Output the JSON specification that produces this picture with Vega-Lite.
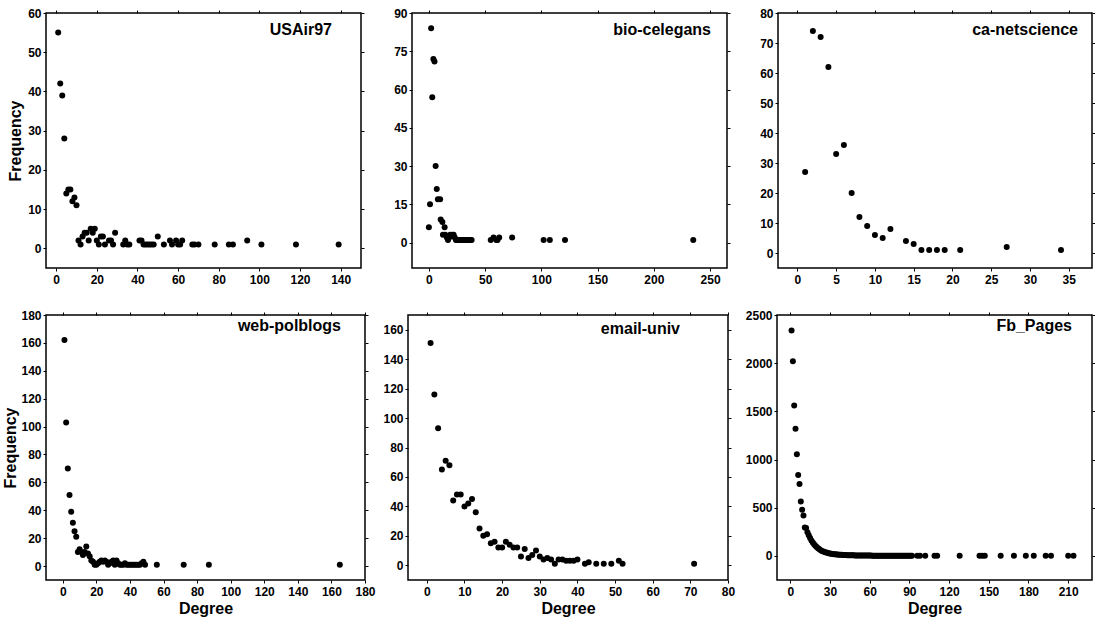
{
  "$schema": "https://vega.github.io/schema/vega-lite/v6.json",
  "background": "white",
  "padding": {"left": 2, "top": 6, "right": 0, "bottom": 0},
  "spacing": 22,
  "datasets": {
    "usair": [
      {"d":1,"f":55},{"d":2,"f":42},{"d":3,"f":39},{"d":4,"f":28},{"d":5,"f":14},{"d":6,"f":15},{"d":7,"f":15},{"d":8,"f":12},{"d":9,"f":13},{"d":10,"f":11},
      {"d":11,"f":2},{"d":12,"f":1},{"d":13,"f":3},{"d":14,"f":4},{"d":15,"f":4},{"d":16,"f":2},{"d":17,"f":5},{"d":18,"f":4},{"d":19,"f":5},{"d":20,"f":2},
      {"d":21,"f":1},{"d":22,"f":3},{"d":23,"f":3},{"d":24,"f":1},{"d":26,"f":2},{"d":27,"f":2},{"d":28,"f":1},{"d":29,"f":4},{"d":33,"f":1},{"d":34,"f":2},
      {"d":35,"f":1},{"d":36,"f":1},{"d":41,"f":2},{"d":42,"f":2},{"d":43,"f":1},{"d":44,"f":1},{"d":45,"f":1},{"d":46,"f":1},{"d":47,"f":1},{"d":48,"f":1},
      {"d":50,"f":3},{"d":53,"f":1},{"d":56,"f":2},{"d":57,"f":1},{"d":59,"f":2},{"d":60,"f":1},{"d":61,"f":1},{"d":62,"f":2},{"d":67,"f":1},{"d":68,"f":1},
      {"d":70,"f":1},{"d":78,"f":1},{"d":85,"f":1},{"d":87,"f":1},{"d":94,"f":2},{"d":101,"f":1},{"d":118,"f":1},{"d":139,"f":1}
    ],
    "celegans": [
      {"d":0,"f":6},{"d":1,"f":15},{"d":2,"f":84},{"d":3,"f":57},{"d":4,"f":72},{"d":5,"f":71},{"d":6,"f":30},{"d":7,"f":21},{"d":8,"f":17},{"d":10,"f":17},
      {"d":10.5,"f":9},{"d":12,"f":8},{"d":12.5,"f":3},{"d":14,"f":6},{"d":14.5,"f":3},{"d":16,"f":2},{"d":17,"f":1},{"d":18,"f":2},{"d":19,"f":3},{"d":21,"f":3},
      {"d":22,"f":3},{"d":23,"f":2},{"d":24,"f":1},{"d":25,"f":1},{"d":26,"f":1},{"d":27,"f":1},{"d":28,"f":1},{"d":29,"f":1},{"d":30,"f":1},{"d":31,"f":1},
      {"d":32,"f":1},{"d":33,"f":1},{"d":34,"f":1},{"d":35,"f":1},{"d":36,"f":1},{"d":37,"f":1},{"d":38,"f":1},
      {"d":55,"f":1},{"d":57.5,"f":2},{"d":60,"f":1},{"d":61,"f":1},{"d":62.5,"f":2},{"d":74,"f":2},{"d":102,"f":1},{"d":107.5,"f":1},{"d":121,"f":1},{"d":235,"f":1}
    ],
    "netsci": [
      {"d":1,"f":27},{"d":2,"f":74},{"d":3,"f":72},{"d":4,"f":62},{"d":5,"f":33},{"d":6,"f":36},{"d":7,"f":20},{"d":8,"f":12},{"d":9,"f":9},{"d":10,"f":6},
      {"d":11,"f":5},{"d":12,"f":8},{"d":14,"f":4},{"d":15,"f":3},{"d":16,"f":1},{"d":17,"f":1},{"d":18,"f":1},{"d":19,"f":1},{"d":21,"f":1},{"d":27,"f":2},{"d":34,"f":1}
    ],
    "polblogs": [
      {"d":1,"f":162},{"d":2,"f":103},{"d":3,"f":70},{"d":4,"f":51},{"d":5,"f":39},{"d":6,"f":31},{"d":7,"f":25},{"d":8,"f":21},{"d":9,"f":10},{"d":10,"f":12},
      {"d":11,"f":10},{"d":12,"f":8},{"d":13,"f":10},{"d":14,"f":14},{"d":15,"f":9},{"d":16,"f":7},{"d":17,"f":4},{"d":18,"f":3},{"d":19,"f":1},{"d":20,"f":1},
      {"d":21,"f":2},{"d":22,"f":3},{"d":23,"f":4},{"d":24,"f":3},{"d":25,"f":4},{"d":26,"f":3},{"d":27,"f":1},{"d":28,"f":2},{"d":29,"f":3},{"d":30,"f":4},
      {"d":31,"f":1},{"d":32,"f":4},{"d":33,"f":2},{"d":34,"f":1},{"d":35,"f":1},{"d":36,"f":1},{"d":37,"f":2},{"d":38,"f":1},{"d":39,"f":1},{"d":40,"f":1},
      {"d":41,"f":1},{"d":42,"f":1},{"d":43,"f":1},{"d":44,"f":1},{"d":45,"f":1},{"d":46,"f":1},{"d":47,"f":2},{"d":48,"f":3},{"d":49,"f":1},{"d":56,"f":1},
      {"d":72,"f":1},{"d":87,"f":1},{"d":165,"f":1}
    ],
    "email": [
      {"d":1,"f":151},{"d":2,"f":116},{"d":3,"f":93},{"d":4,"f":65},{"d":5,"f":71},{"d":6,"f":68},{"d":7,"f":44},{"d":8,"f":48},{"d":9,"f":48},{"d":10,"f":40},
      {"d":11,"f":42},{"d":12,"f":45},{"d":13,"f":36},{"d":14,"f":25},{"d":15,"f":20},{"d":16,"f":21},{"d":17,"f":15},{"d":18,"f":16},{"d":19,"f":12},{"d":20,"f":12},
      {"d":21,"f":16},{"d":22,"f":14},{"d":23,"f":12},{"d":24,"f":12},{"d":25,"f":6},{"d":26,"f":11},{"d":27,"f":5},{"d":28,"f":7},{"d":29,"f":10},{"d":30,"f":6},
      {"d":31,"f":4},{"d":32,"f":5},{"d":33,"f":4},{"d":34,"f":1},{"d":35,"f":4},{"d":36,"f":4},{"d":37,"f":3},{"d":38,"f":3},{"d":39,"f":3},{"d":40,"f":4},
      {"d":42,"f":1},{"d":43,"f":2},{"d":45,"f":1},{"d":47,"f":1},{"d":49,"f":1},{"d":51,"f":3},{"d":52,"f":1},{"d":71,"f":1}
    ],
    "fb": [
      {"d":1,"f":2340},{"d":2,"f":2020},{"d":3,"f":1560},{"d":4,"f":1320},{"d":5,"f":1055},{"d":6,"f":840},{"d":7,"f":745},{"d":8,"f":565},{"d":9,"f":480},{"d":10,"f":420},
      {"d":11,"f":295},{"d":12,"f":290},{"d":13,"f":245},{"d":14,"f":215},{"d":15,"f":185},{"d":16,"f":160},{"d":17,"f":140},{"d":18,"f":120},{"d":19,"f":105},{"d":20,"f":92},
      {"d":21,"f":80},{"d":22,"f":70},{"d":23,"f":60},{"d":24,"f":52},{"d":25,"f":46},{"d":26,"f":40},{"d":27,"f":36},{"d":28,"f":32},{"d":29,"f":28},{"d":30,"f":25},
      {"d":31,"f":22},{"d":32,"f":20},{"d":33,"f":18},{"d":34,"f":16},{"d":35,"f":15},{"d":36,"f":14},{"d":37,"f":13},{"d":38,"f":12},{"d":39,"f":11},{"d":40,"f":10},
      {"d":41,"f":9},{"d":42,"f":9},{"d":43,"f":8},{"d":44,"f":8},{"d":45,"f":7},{"d":46,"f":7},{"d":47,"f":6},{"d":48,"f":6},{"d":49,"f":5},{"d":50,"f":5},
      {"d":51,"f":5},{"d":52,"f":4},{"d":53,"f":4},{"d":54,"f":4},{"d":55,"f":4},{"d":56,"f":3},{"d":57,"f":3},{"d":58,"f":3},{"d":59,"f":3},{"d":60,"f":3},
      {"d":61,"f":3},{"d":62,"f":2},{"d":63,"f":2},{"d":64,"f":2},{"d":65,"f":2},{"d":66,"f":2},{"d":67,"f":2},{"d":68,"f":2},{"d":69,"f":2},{"d":70,"f":2},
      {"d":71,"f":2},{"d":72,"f":2},{"d":73,"f":1},{"d":74,"f":2},{"d":75,"f":1},{"d":76,"f":1},{"d":77,"f":2},{"d":78,"f":1},{"d":79,"f":1},{"d":80,"f":1},
      {"d":81,"f":1},{"d":82,"f":1},{"d":83,"f":2},{"d":84,"f":1},{"d":85,"f":1},{"d":86,"f":1},{"d":87,"f":1},{"d":88,"f":1},{"d":89,"f":1},{"d":90,"f":1},
      {"d":91,"f":1},{"d":92,"f":1},{"d":96,"f":1},{"d":98,"f":1},{"d":102,"f":1},{"d":109,"f":1},{"d":111,"f":1},{"d":128,"f":1},{"d":143,"f":1},{"d":145,"f":1},
      {"d":147,"f":1},{"d":159,"f":1},{"d":169,"f":1},{"d":178,"f":1},{"d":184,"f":1},{"d":193,"f":1},{"d":197,"f":1},{"d":210,"f":1},{"d":214,"f":1}
    ]
  },
  "vconcat": [
    {
      "bounds": "flush",
      "spacing": 51,
      "hconcat": [
        {
          "width": 315, "height": 255,
          "title": {"text": "USAir97", "dx": -29, "dy": 35},
          "data": {"name": "usair"},
          "resolve": {"axis": {"x": "independent", "y": "independent"}},
          "layer": [
            {
              "mark": {"type": "circle", "size": 36, "color": "black", "opacity": 1},
              "encoding": {
                "x": {"field": "d", "type": "quantitative", "scale": {"domain": [-5, 150], "nice": false, "zero": false}, "axis": {"values": [0,20,40,60,80,100,120,140], "title": null}},
                "y": {"field": "f", "type": "quantitative", "scale": {"domain": [-5, 60], "nice": false, "zero": false}, "axis": {"values": [0,10,20,30,40,50,60], "title": "Frequency", "titlePadding": 4}}
              }
            },
            {
              "mark": {"type": "circle", "size": 36, "opacity": 0},
              "encoding": {
                "x": {"field": "d", "type": "quantitative", "axis": {"orient": "top", "labels": false, "title": null, "values": [0,20,40,60,80,100,120,140]}},
                "y": {"field": "f", "type": "quantitative", "axis": {"orient": "right", "labels": false, "title": null, "values": [0,10,20,30,40,50,60]}}
              }
            }
          ]
        },
        {
          "width": 315, "height": 255,
          "title": {"text": "bio-celegans", "dx": -16, "dy": 35},
          "data": {"name": "celegans"},
          "resolve": {"axis": {"x": "independent", "y": "independent"}},
          "layer": [
            {
              "mark": {"type": "circle", "size": 36, "color": "black", "opacity": 1},
              "encoding": {
                "x": {"field": "d", "type": "quantitative", "scale": {"domain": [-15, 265], "nice": false, "zero": false}, "axis": {"values": [0,50,100,150,200,250], "title": null}},
                "y": {"field": "f", "type": "quantitative", "scale": {"domain": [-10, 90], "nice": false, "zero": false}, "axis": {"values": [0,15,30,45,60,75,90], "title": null}}
              }
            },
            {
              "mark": {"type": "circle", "size": 36, "opacity": 0},
              "encoding": {
                "x": {"field": "d", "type": "quantitative", "axis": {"orient": "top", "labels": false, "title": null, "values": [0,50,100,150,200,250]}},
                "y": {"field": "f", "type": "quantitative", "axis": {"orient": "right", "labels": false, "title": null, "values": [0,15,30,45,60,75,90]}}
              }
            }
          ]
        },
        {
          "width": 314, "height": 255,
          "title": {"text": "ca-netscience", "dx": -14, "dy": 35},
          "data": {"name": "netsci"},
          "resolve": {"axis": {"x": "independent", "y": "independent"}},
          "layer": [
            {
              "mark": {"type": "circle", "size": 36, "color": "black", "opacity": 1},
              "encoding": {
                "x": {"field": "d", "type": "quantitative", "scale": {"domain": [-2.5, 38], "nice": false, "zero": false}, "axis": {"values": [0,5,10,15,20,25,30,35], "title": null}},
                "y": {"field": "f", "type": "quantitative", "scale": {"domain": [-5, 80], "nice": false, "zero": false}, "axis": {"values": [0,10,20,30,40,50,60,70,80], "title": null}}
              }
            },
            {
              "mark": {"type": "circle", "size": 36, "opacity": 0},
              "encoding": {
                "x": {"field": "d", "type": "quantitative", "axis": {"orient": "top", "labels": false, "title": null, "values": [0,5,10,15,20,25,30,35]}},
                "y": {"field": "f", "type": "quantitative", "axis": {"orient": "right", "labels": false, "title": null, "values": [0,10,20,30,40,50,60,70,80]}}
              }
            }
          ]
        }
      ]
    },
    {
      "bounds": "flush",
      "spacing": 43,
      "hconcat": [
        {
          "width": 319, "height": 265,
          "title": {"text": "web-polblogs", "dx": -24, "dy": 29},
          "data": {"name": "polblogs"},
          "resolve": {"axis": {"x": "independent", "y": "independent"}},
          "layer": [
            {
              "mark": {"type": "circle", "size": 36, "color": "black", "opacity": 1},
              "encoding": {
                "x": {"field": "d", "type": "quantitative", "scale": {"domain": [-10, 180], "nice": false, "zero": false}, "axis": {"values": [0,20,40,60,80,100,120,140,160,180], "title": "Degree"}},
                "y": {"field": "f", "type": "quantitative", "scale": {"domain": [-10, 180], "nice": false, "zero": false}, "axis": {"values": [0,20,40,60,80,100,120,140,160,180], "title": "Frequency", "titlePadding": 2}}
              }
            },
            {
              "mark": {"type": "circle", "size": 36, "opacity": 0},
              "encoding": {
                "x": {"field": "d", "type": "quantitative", "axis": {"orient": "top", "labels": false, "title": null, "values": [0,20,40,60,80,100,120,140,160,180]}},
                "y": {"field": "f", "type": "quantitative", "axis": {"orient": "right", "labels": false, "title": null, "values": [0,20,40,60,80,100,120,140,160,180]}}
              }
            }
          ]
        },
        {
          "bounds": "flush",
          "spacing": 49,
          "hconcat": [
            {
              "width": 320, "height": 265,
              "title": {"text": "email-univ", "dx": -48, "dy": 29},
              "data": {"name": "email"},
              "resolve": {"axis": {"x": "independent", "y": "independent"}},
              "layer": [
                {
                  "mark": {"type": "circle", "size": 36, "color": "black", "opacity": 1},
                  "encoding": {
                    "x": {"field": "d", "type": "quantitative", "scale": {"domain": [-5, 80], "nice": false, "zero": false}, "axis": {"values": [0,10,20,30,40,50,60,70,80], "title": "Degree"}},
                    "y": {"field": "f", "type": "quantitative", "scale": {"domain": [-10, 170], "nice": false, "zero": false}, "axis": {"values": [0,20,40,60,80,100,120,140,160], "title": null}}
                  }
                },
                {
                  "mark": {"type": "circle", "size": 36, "opacity": 0},
                  "encoding": {
                    "x": {"field": "d", "type": "quantitative", "axis": {"orient": "top", "labels": false, "title": null, "values": [0,10,20,30,40,50,60,70,80]}},
                    "y": {"field": "f", "type": "quantitative", "axis": {"orient": "right", "labels": false, "title": null, "values": [0,20,40,60,80,100,120,140,160]}}
                  }
                }
              ]
            },
            {
              "width": 315, "height": 265,
              "title": {"text": "Fb_Pages", "dx": -20, "dy": 29},
              "data": {"name": "fb"},
              "resolve": {"axis": {"x": "independent", "y": "independent"}},
              "layer": [
                {
                  "mark": {"type": "circle", "size": 36, "color": "black", "opacity": 1},
                  "encoding": {
                    "x": {"field": "d", "type": "quantitative", "scale": {"domain": [-10, 228], "nice": false, "zero": false}, "axis": {"values": [0,30,60,90,120,150,180,210], "title": "Degree"}},
                    "y": {"field": "f", "type": "quantitative", "scale": {"domain": [-250, 2500], "nice": false, "zero": false}, "axis": {"values": [0,500,1000,1500,2000,2500], "format": "d", "title": null}}
                  }
                },
                {
                  "mark": {"type": "circle", "size": 36, "opacity": 0},
                  "encoding": {
                    "x": {"field": "d", "type": "quantitative", "axis": {"orient": "top", "labels": false, "title": null, "values": [0,30,60,90,120,150,180,210]}},
                    "y": {"field": "f", "type": "quantitative", "axis": {"orient": "right", "labels": false, "title": null, "values": [0,500,1000,1500,2000,2500]}}
                  }
                }
              ]
            }
          ]
        }
      ]
    }
  ],
  "config": {
    "font": "Liberation Sans",
    "view": {"stroke": "black", "strokeWidth": 1.5, "fill": "white"},
    "title": {"anchor": "end", "frame": "group", "orient": "top", "offset": 0, "baseline": "alphabetic", "font": "Liberation Sans", "fontSize": 16, "fontWeight": "bold", "color": "black"},
    "axis": {
      "labelFont": "Liberation Sans", "labelFontSize": 12, "labelFontWeight": "bold", "labelColor": "black",
      "titleFont": "Liberation Sans", "titleFontSize": 16, "titleFontWeight": "bold", "titleColor": "black",
      "tickColor": "black", "tickSize": 3, "tickWidth": 1, "domain": false, "grid": false,
      "labelFlush": false, "labelOverlap": false
    },
    "axisX": {"labelPadding": 3, "titlePadding": 3},
    "axisY": {"labelPadding": 2}
  }
}
